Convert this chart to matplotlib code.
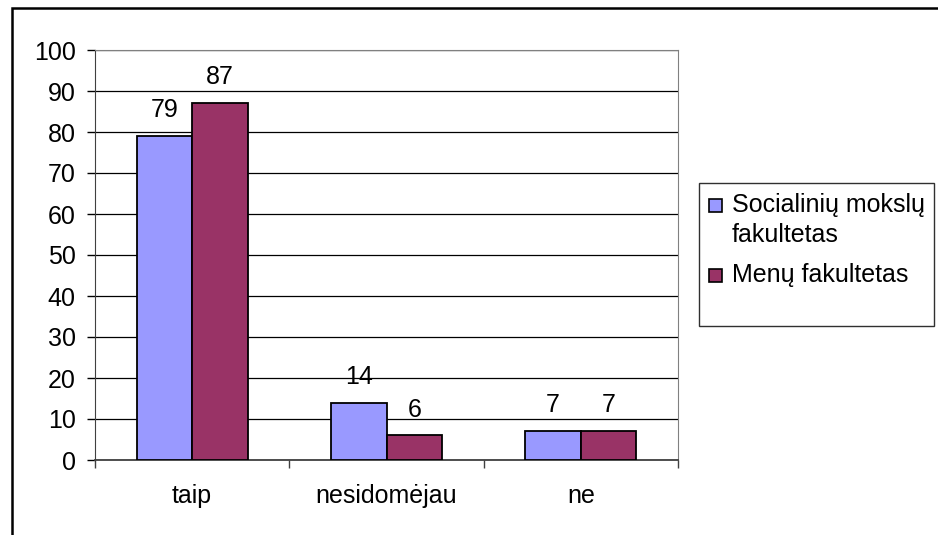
import matplotlib
matplotlib.use("Agg")
import matplotlib.pyplot as plt
import numpy as np
from matplotlib.patches import Rectangle

categories = ["taip", "nesidomėjau", "ne"]
series_names = ["Socialinių mokslų\nfakultetas", "Menų fakultetas"]
social = [79, 14, 7]
arts = [87, 6, 7]
colors = ["#9999FF", "#993366"]

W, H = 938, 535
plt.rcParams["font.family"] = ["Liberation Sans", "DejaVu Sans"]
FS = 18

fig = plt.figure(figsize=(W / 100, H / 100), dpi=100)
# outer chart border (runs past right/bottom edges)
fig.patches.append(Rectangle((12 / W, -0.05), 1.1, 1 - 8 / H + 0.05,
                             transform=fig.transFigure, fill=False,
                             edgecolor="black", lw=1.8, zorder=0))

ax = fig.add_axes([95 / W, (H - 460) / H, (678 - 95) / W, (460 - 50) / H])
x = np.arange(len(categories))
bw = 1 / 3.5
for i, (vals, c) in enumerate(zip([social, arts], colors)):
    pos = x + (i - 0.5) * bw
    ax.bar(pos, vals, width=bw, color=c, edgecolor="black", lw=1.3, zorder=3)
    for p, v in zip(pos, vals):
        ax.annotate(str(v), xy=(p, v), xytext=(0, 10), textcoords="offset points",
                    ha="center", va="bottom", fontsize=FS)

ax.set_xlim(-0.5, len(categories) - 0.5)
ax.set_ylim(0, 100)
ax.set_yticks(range(0, 101, 10))
ax.tick_params(axis="y", labelsize=FS, length=6, width=1, pad=8, direction="out")
ax.yaxis.grid(True, color="black", lw=0.9, zorder=0)
ax.set_axisbelow(True)

ax.set_xticks(x)
ax.set_xticklabels(categories, fontsize=FS)
ax.tick_params(axis="x", length=0, pad=17)
ax.set_xticks(np.arange(-0.5, len(categories)), minor=True)
ax.tick_params(axis="x", which="minor", length=6, width=1, color="#404040")

for s in ["top", "right"]:
    ax.spines[s].set_color("#808080")
ax.spines["left"].set_color("#404040")
ax.spines["bottom"].set_color("#404040")
ax.spines["bottom"].set_linewidth(1.3)

# legend box
fig.patches.append(Rectangle((699 / W, 1 - 326 / H), (934 - 699) / W, (326 - 183) / H,
                             transform=fig.transFigure, fill=False,
                             edgecolor="#303030", lw=1))
for name, c, yc in zip(series_names, colors, [205, 275]):
    fig.patches.append(Rectangle((709 / W, 1 - (yc + 7) / H), 13 / W, 13 / H,
                                 transform=fig.transFigure, facecolor=c,
                                 edgecolor="black", lw=1.2))
    for k, line in enumerate(name.split("\n")):
        fig.text(732 / W, 1 - (yc + 30 * k) / H, line, fontsize=FS,
                 va="center", ha="left")

fig.savefig("out.png", dpi=100)
